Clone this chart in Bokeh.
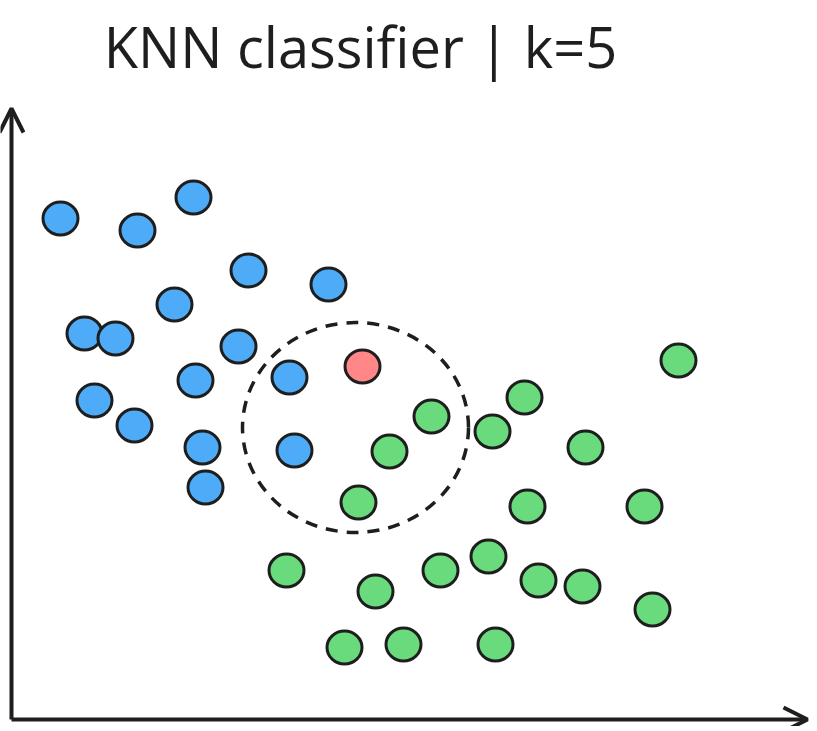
from bokeh.plotting import figure
from bokeh.models import Range1d, Arrow, OpenHead
from bokeh.core.properties import value
from bokeh.embed import file_html
from bokeh.resources import INLINE

# feature values (x, y) per class
blue_x = [49, 126, 182, 237, 317, 163, 73, 104, 227, 278, 184, 83, 123, 191, 283, 194]
blue_y = [501, 489, 522, 449, 435, 415, 386, 381, 373, 342, 339, 319, 294, 272, 269, 232]

green_x = [667, 513, 420, 481, 378, 574, 347, 516, 633, 275, 429, 477, 527, 571, 364, 641, 333, 392, 484]
green_y = [359, 322, 303, 288, 268, 272, 217, 213, 213, 149, 149, 163, 139, 133, 128, 110, 72, 75, 75]

query_x = [351]
query_y = [353]

k = 5
radius_center = (344, 292)
radius_w, radius_h = 226, 210

title = "KNN classifier | k=5"

W, H = 812, 726
X0, Y0 = 11, 719  # pixel position of the origin
p = figure(width=W, height=H, output_backend="svg", toolbar_location=None,
           x_range=Range1d(-X0, W - X0), y_range=Range1d(Y0 - H, Y0),
           min_border=0, outline_line_color=None)
p.axis.visible = False
p.grid.visible = False
p.background_fill_color = "white"

OUT = "#1e1e1e"
p.ellipse(x=blue_x, y=blue_y, width=35, height=33, fill_color="#4dabf7",
          line_color=OUT, line_width=3)
p.ellipse(x=green_x, y=green_y, width=35, height=33, fill_color="#69db7c",
          line_color=OUT, line_width=3)
p.ellipse(x=query_x, y=query_y, width=35, height=33, fill_color="#ff8787",
          line_color=OUT, line_width=3)

p.ellipse(x=[radius_center[0]], y=[radius_center[1]], width=radius_w, height=radius_h,
          fill_color=None, line_color=OUT, line_width=3.5, line_dash="12 9")

p.add_layout(Arrow(x_start=0, y_start=0, x_end=0, y_end=611, line_width=4, line_color=OUT,
                   end=OpenHead(size=24, line_width=4, line_color=OUT)))
p.add_layout(Arrow(x_start=0, y_start=0, x_end=796, y_end=0, line_width=4, line_color=OUT,
                   end=OpenHead(size=24, line_width=4, line_color=OUT)))

p.text(x=[349], y=[674], text=[title], text_font=value("Open Sans"), text_font_size="56px",
       text_align="center", text_baseline="middle", text_color=OUT)

open("out.html", "w").write(file_html(p, INLINE))
